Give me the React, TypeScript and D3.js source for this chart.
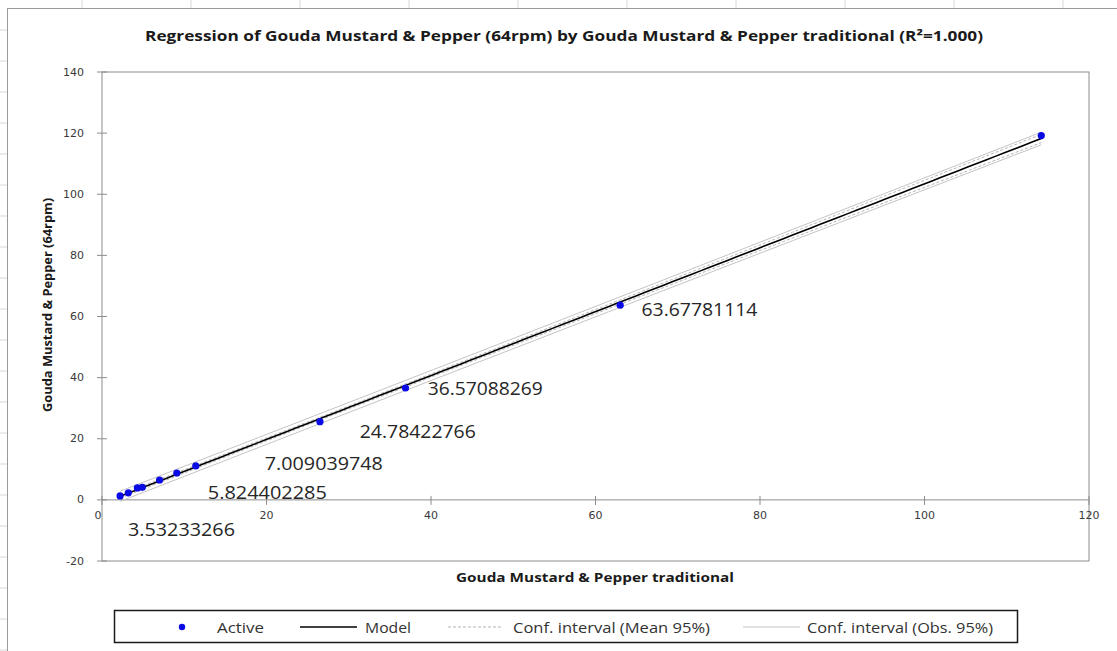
import React from "react";
import * as d3 from "d3";

// ---- data ----
const xValues = [2.2, 3.2, 4.3, 4.9, 7.0, 9.1, 11.4, 26.5, 36.9, 63.0, 114.2];
const yValues = [1.3, 2.3, 3.9, 4.1, 6.5, 8.8, 11.1, 25.6, 36.6, 63.7, 119.2];

const dataLabels = ["3.53233266", "5.824402285", "7.009039748", "24.78422766", "36.57088269", "63.67781114"];
const dataLabelX = [3.16, 12.87, 19.8, 31.34, 39.6, 65.59];
const dataLabelY = [-9.49, 2.62, 12.11, 22.59, 36.66, 62.52];
const dataLabelLen = [107, 119, 118, 116, 115, 116];

const xTicks = [0, 20, 40, 60, 80, 100, 120];
const yTicks = [-20, 0, 20, 40, 60, 80, 100, 120, 140];

const legendItems = ["Active", "Model", "Conf. interval (Mean 95%)", "Conf. interval (Obs. 95%)"];

const title = "Regression of Gouda Mustard & Pepper (64rpm) by Gouda Mustard & Pepper traditional (R\u00B2=1.000)";
const xTitle = "Gouda Mustard & Pepper traditional";
const yTitle = "Gouda Mustard & Pepper (64rpm)";

const W = 1117;
const H = 651;

export default function App() {
  const x = d3.scaleLinear().domain([0, 120]).range([102, 1089]);
  const y = d3.scaleLinear().domain([-20, 140]).range([561, 72]);

  // OLS regression + confidence intervals
  const n = xValues.length;
  const mx = d3.mean(xValues)!;
  const my = d3.mean(yValues)!;
  let sxx = 0, sxy = 0;
  for (let i = 0; i < n; i++) {
    sxx += (xValues[i] - mx) ** 2;
    sxy += (xValues[i] - mx) * (yValues[i] - my);
  }
  const b = sxy / sxx;
  const a = my - b * mx;
  let sse = 0;
  for (let i = 0; i < n; i++) sse += (yValues[i] - (a + b * xValues[i])) ** 2;
  const s = Math.sqrt(sse / (n - 2));
  const t = 2.262;
  const [xmin, xmax] = d3.extent(xValues) as [number, number];
  const grid = d3.range(0, 101).map((k) => xmin + ((xmax - xmin) * k) / 100);
  const fit = (v: number) => a + b * v;
  const mean = (v: number) => t * s * Math.sqrt(1 / n + (v - mx) ** 2 / sxx);
  const obs = (v: number) => t * s * Math.sqrt(1 + 1 / n + (v - mx) ** 2 / sxx);
  const line = d3.line<[number, number]>().x((d) => x(d[0])).y((d) => y(d[1]));
  const modelPath = line(grid.map((v) => [v, fit(v)]))!;
  const meanLo = line(grid.map((v) => [v, fit(v) - mean(v)]))!;
  const meanHi = line(grid.map((v) => [v, fit(v) + mean(v)]))!;
  const obsLo = line(grid.map((v) => [v, fit(v) - obs(v)]))!;
  const obsHi = line(grid.map((v) => [v, fit(v) + obs(v)]))!;

  const font = "'Open Sans', 'DejaVu Sans', sans-serif";
  const tickFont = "'DejaVu Sans', sans-serif";

  const sheetTicksY = d3.range(30, H, 31);
  const sheetTicksX = d3.range(82, W, 109);

  return (
    <svg width={W} height={H} style={{ position: "absolute", left: 0, top: 0, background: "#fff" }}>
      <rect x={0} y={0} width={W} height={H} fill="#fff" />
      {/* sheet fragments */}
      {sheetTicksY.map((v) => (
        <line key={"sy" + v} x1={0} x2={7} y1={v} y2={v} stroke="#d8d8d8" />
      ))}
      {sheetTicksX.map((v) => (
        <line key={"sx" + v} x1={v} x2={v} y1={0} y2={8} stroke="#d8d8d8" />
      ))}
      <line x1={7.5} x2={7.5} y1={8} y2={H} stroke="#9a9a9a" />
      <line x1={7} x2={W} y1={8.5} y2={8.5} stroke="#9a9a9a" />

      {/* title */}
      <text x={564} y={35} textAnchor="middle" dominantBaseline="central" fontFamily={font} fontWeight="bold"
        fontSize={14.5} fill="#1a1a1a" textLength={838} lengthAdjust="spacingAndGlyphs">{title}</text>

      {/* plot frame */}
      <rect x={x(0)} y={y(140)} width={x(120) - x(0)} height={y(-20) - y(140)} fill="none" stroke="#8c8c8c" />
      {/* x axis at 0 */}
      <line x1={x(0)} x2={x(120)} y1={y(0)} y2={y(0)} stroke="#8c8c8c" />
      {xTicks.map((v) => (
        <g key={"xt" + v}>
          <line x1={x(v)} x2={x(v)} y1={y(0) - 4} y2={y(0) + 5} stroke="#8c8c8c" />
          <text x={x(v) - (v === 0 ? 4 : 0)} y={y(0) + 19} textAnchor="middle" fontFamily={tickFont} fontSize={11} fill="#3a3a3a">{v}</text>
        </g>
      ))}
      {yTicks.map((v) => (
        <g key={"yt" + v}>
          <line x1={x(0) - 5} x2={x(0) + 5} y1={y(v)} y2={y(v)} stroke="#8c8c8c" />
          <text x={84} y={y(v)} textAnchor="end" dominantBaseline="central" fontFamily={tickFont} fontSize={11} fill="#3a3a3a">{v}</text>
        </g>
      ))}

      {/* axis titles */}
      <text x={595} y={577} textAnchor="middle" dominantBaseline="central" fontFamily={font} fontWeight="bold"
        fontSize={12.5} fill="#1a1a1a" textLength={278} lengthAdjust="spacingAndGlyphs">{xTitle}</text>
      <text transform={`translate(47,${305}) rotate(-90)`} textAnchor="middle" dominantBaseline="central" fontFamily={font}
        fontWeight="bold" fontSize={12.5} fill="#1a1a1a" textLength={214} lengthAdjust="spacingAndGlyphs">{yTitle}</text>

      {/* CI curves */}
      <path d={obsLo} fill="none" stroke="#c4c4c4" strokeWidth={1} />
      <path d={obsHi} fill="none" stroke="#c4c4c4" strokeWidth={1} />
      <path d={meanLo} fill="none" stroke="#b4b4b4" strokeWidth={1} strokeDasharray="3,2" />
      <path d={meanHi} fill="none" stroke="#b4b4b4" strokeWidth={1} strokeDasharray="3,2" />
      <path d={modelPath} fill="none" stroke="#000" strokeWidth={1.6} />

      {/* points */}
      {xValues.map((v, i) => (
        <circle key={"p" + i} cx={x(v)} cy={y(yValues[i])} r={3.6} fill="#0a0ae6" />
      ))}

      {/* data labels */}
      {dataLabels.map((l, i) => (
        <text key={"dl" + i} x={x(dataLabelX[i])} y={y(dataLabelY[i])} dominantBaseline="central" fontFamily={font}
          fontSize={18} fill="#262626" textLength={dataLabelLen[i]} lengthAdjust="spacingAndGlyphs">{l}</text>
      ))}

      {/* legend */}
      <rect x={114.5} y={610.5} width={903} height={32} fill="#fff" stroke="#1a1a1a" strokeWidth={1.5} />
      <circle cx={182} cy={627} r={3.2} fill="#0a0ae6" />
      <text x={217} y={627} dominantBaseline="central" fontFamily={font} fontSize={14.5} fill="#333" textLength={47} lengthAdjust="spacingAndGlyphs">{legendItems[0]}</text>
      <line x1={300} x2={357} y1={627} y2={627} stroke="#000" strokeWidth={1.6} />
      <text x={365} y={627} dominantBaseline="central" fontFamily={font} fontSize={14.5} fill="#333" textLength={46} lengthAdjust="spacingAndGlyphs">{legendItems[1]}</text>
      <line x1={448} x2={503} y1={627} y2={627} stroke="#b4b4b4" strokeDasharray="3,2" />
      <text x={513} y={627} dominantBaseline="central" fontFamily={font} fontSize={14.5} fill="#333" textLength={197} lengthAdjust="spacingAndGlyphs">{legendItems[2]}</text>
      <line x1={743} x2={800} y1={627} y2={627} stroke="#c4c4c4" />
      <text x={807} y={627} dominantBaseline="central" fontFamily={font} fontSize={14.5} fill="#333" textLength={186} lengthAdjust="spacingAndGlyphs">{legendItems[3]}</text>
    </svg>
  );
}
